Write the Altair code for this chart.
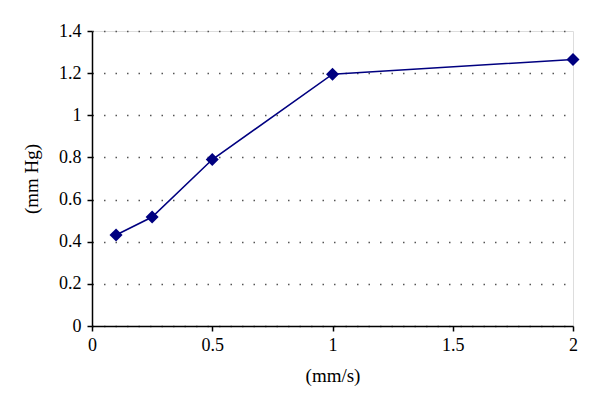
import altair as alt
import pandas as pd

speed = [0.1, 0.25, 0.5, 1.0, 2.0]
pressure = [0.432, 0.517, 0.79, 1.195, 1.265]

df = pd.DataFrame({"speed": speed, "pressure": pressure})

FONT = "Liberation Serif"
NAVY = "#000080"
LFS = 18
TFS = 19

x = alt.X("speed:Q", title="(mm/s)",
          scale=alt.Scale(domain=[0, 2], nice=False, zero=True),
          axis=alt.Axis(values=[0, 0.5, 1, 1.5, 2], grid=False, domainColor="black",
                        labelExpr="format(datum.value, '~g')",
                        domainWidth=1.5, tickColor="black", tickSize=5, tickWidth=1.5,
                        labelFontSize=LFS, titleFontSize=TFS, labelFont=FONT, titleFont=FONT,
                        labelColor="black", titleColor="black", labelPadding=5,
                        titlePadding=12, titleFontWeight="normal", labelFlush=False))
y = alt.Y("pressure:Q", title="(mm Hg)",
          scale=alt.Scale(domain=[0, 1.4], nice=False),
          axis=alt.Axis(values=[0, 0.2, 0.4, 0.6, 0.8, 1.0, 1.2, 1.4],
                        labelExpr="format(datum.value, '~g')",
                        grid=True, gridColor="#555555", gridDash=[1.5, 10], gridWidth=1.6,
                        domainColor="black", domainWidth=1.5, tickColor="black", tickSize=5,
                        tickWidth=1.5, labelFontSize=LFS, titleFontSize=TFS, labelFont=FONT,
                        titleFont=FONT, labelColor="black", titleColor="black",
                        labelPadding=6, titlePadding=17, titleFontWeight="normal",
                        labelFlush=False))

base = alt.Chart(df).encode(x=x, y=y)
line = base.mark_line(color=NAVY, strokeWidth=1.6)
pts = base.mark_point(shape="diamond", filled=True, color=NAVY, size=170, opacity=1)

chart = (line + pts).properties(
    width=481, height=295,
    autosize=alt.AutoSizeParams(type="none"),
    padding={"left": 84, "top": 23, "right": 19, "bottom": 70},
).configure_view(stroke=None).configure(background="white")

chart.save("out.html", embed_options={"renderer": "svg", "actions": False})
